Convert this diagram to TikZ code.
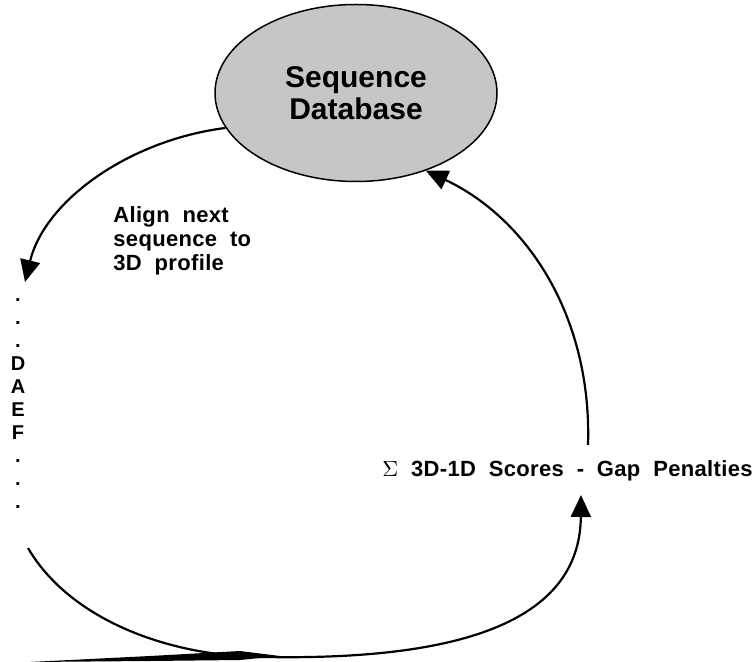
\documentclass[tikz,border=0pt]{standalone}
\usepackage{fontspec}
\setmainfont{Liberation Sans}
\newfontfamily\widesans{Liberation Sans}[LetterSpace=1.5,WordSpace=2]
\usetikzlibrary{arrows.meta,shapes.geometric}
\definecolor{dbgray}{RGB}{198,198,198}

\begin{document}
\begin{tikzpicture}[x=0.5pt,y=-0.5pt,
  flow/.style={line width=1.1pt,-{Triangle[length=11pt,width=10pt]}},
  lbl/.style={inner sep=0pt,font=\widesans\bfseries\fontsize{11}{12}\selectfont}]
  \useasboundingbox (0,0) rectangle (754,662);
  % database and labels
  \node[ellipse,draw,line width=0.75pt,fill=dbgray,minimum width=141pt,minimum height=88.5pt,
    inner sep=0pt,align=center,font=\bfseries\fontsize{15}{16}\selectfont] (db) at (356,93) {Sequence\\Database};
  \node[lbl,anchor=north west,align=left] (align) at (113,206) {Align next\\sequence to\\3D profile};
  \node[inner sep=0pt,anchor=north,align=center,font=\bfseries\fontsize{10}{11.5}\selectfont]
    (seq) at (18,298) {.\\.\\.\\D\\A\\E\\F\\.\\.\\.};
  \node[lbl,anchor=base west,font=\widesans\bfseries\fontsize{11}{13}\selectfont] (score) at (382,476)
    {$\Sigma$ 3D-1D Scores - Gap Penalties};
  \coordinate (seqtop) at (25,282);
  \coordinate (seqbot) at (28,548);
  \coordinate (scorein) at (581,495);
  \coordinate (scoreout) at (588,445);
  % the loop
  \draw[flow] (db.195) .. controls (130,140) and (45,200) .. (seqtop);
  \draw[flow] (scoreout) .. controls (592,320) and (530,220) .. (db.312);
  \draw[flow] (seqbot) .. controls (70,620) and (170,657) .. (265,657)
    .. controls (440,660) and (580,630) .. (scorein);
  \fill (30,662) -- (150,656) -- (240,651) -- (280,656) -- (240,660) -- (150,661) -- cycle;
\end{tikzpicture}
\end{document}
